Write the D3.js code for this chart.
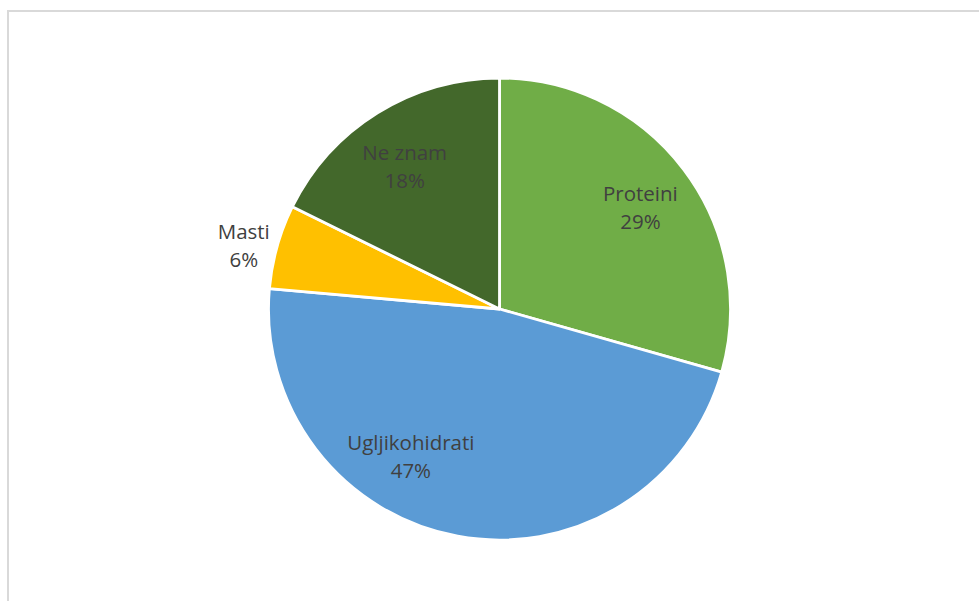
<!DOCTYPE html>
<html>
<head>
<meta charset="utf-8">
<script src="https://cdn.jsdelivr.net/npm/d3@7"></script>
<style>
  html, body { margin: 0; padding: 0; background: #fff; }
  svg { display: block; }
</style>
</head>
<body>
<svg id="chart" width="979" height="601"></svg>
<script>
// ---- data ----
const categories = ["Proteini", "Ugljikohidrati", "Masti", "Ne znam"];
const values = [29.4, 47.0, 5.9, 17.7];
const colors = ["#70AD47", "#5B9BD5", "#FFC000", "#43682B"];

// ---- layout (label placement: angle in degrees from 12 o'clock, radius as fraction of pie radius) ----
const labelPlacement = [
  { angle: 54.4, r: 0.75 },
  { angle: 211, r: 0.745 },
  { angle: 283.8, r: 1.14 },
  { angle: 326.3, r: 0.74 }
];

const W = 979, H = 601;
const cx = 499.5, cy = 309, R = 231;

const svg = d3.select("#chart");

// chart area border
svg.append("rect")
  .attr("x", 8).attr("y", 11)
  .attr("width", W + 10).attr("height", H + 10)
  .attr("fill", "#fff")
  .attr("stroke", "#D9D9D9")
  .attr("stroke-width", 2);

const total = d3.sum(values);
const data = categories.map((c, i) => ({ name: c, value: values[i], color: colors[i], i }));

const pie = d3.pie().value(d => d.value).sort(null);
const arc = d3.arc().innerRadius(0).outerRadius(R);

const g = svg.append("g").attr("transform", `translate(${cx},${cy})`);

const arcs = pie(data);

g.selectAll("path.slice")
  .data(arcs)
  .join("path")
  .attr("class", "slice")
  .attr("d", arc)
  .attr("fill", d => d.data.color)
  .attr("stroke", "#fff")
  .attr("stroke-width", 2.8)
  .attr("stroke-linejoin", "round");

// labels
const fmt = v => Math.round(v / total * 100) + "%";
const labels = g.selectAll("g.label")
  .data(arcs)
  .join("g")
  .attr("class", "label")
  .attr("transform", d => {
    const p = labelPlacement[d.data.i];
    const a = p.angle * Math.PI / 180;
    const rr = p.r * R;
    const la = d3.arc().innerRadius(rr).outerRadius(rr).startAngle(a).endAngle(a);
    const [x, y] = la.centroid();
    return `translate(${x},${y})`;
  });

labels.append("text")
  .attr("text-anchor", "middle")
  .attr("font-family", "'Open Sans', 'Noto Sans', sans-serif")
  .attr("font-size", 20.5)
  .attr("fill", "#404040")
  .attr("y", -7)
  .text(d => d.data.name);

labels.append("text")
  .attr("text-anchor", "middle")
  .attr("font-family", "'Open Sans', 'Noto Sans', sans-serif")
  .attr("font-size", 20.5)
  .attr("fill", "#404040")
  .attr("y", 21)
  .text(d => fmt(d.data.value));
</script>
</body>
</html>
